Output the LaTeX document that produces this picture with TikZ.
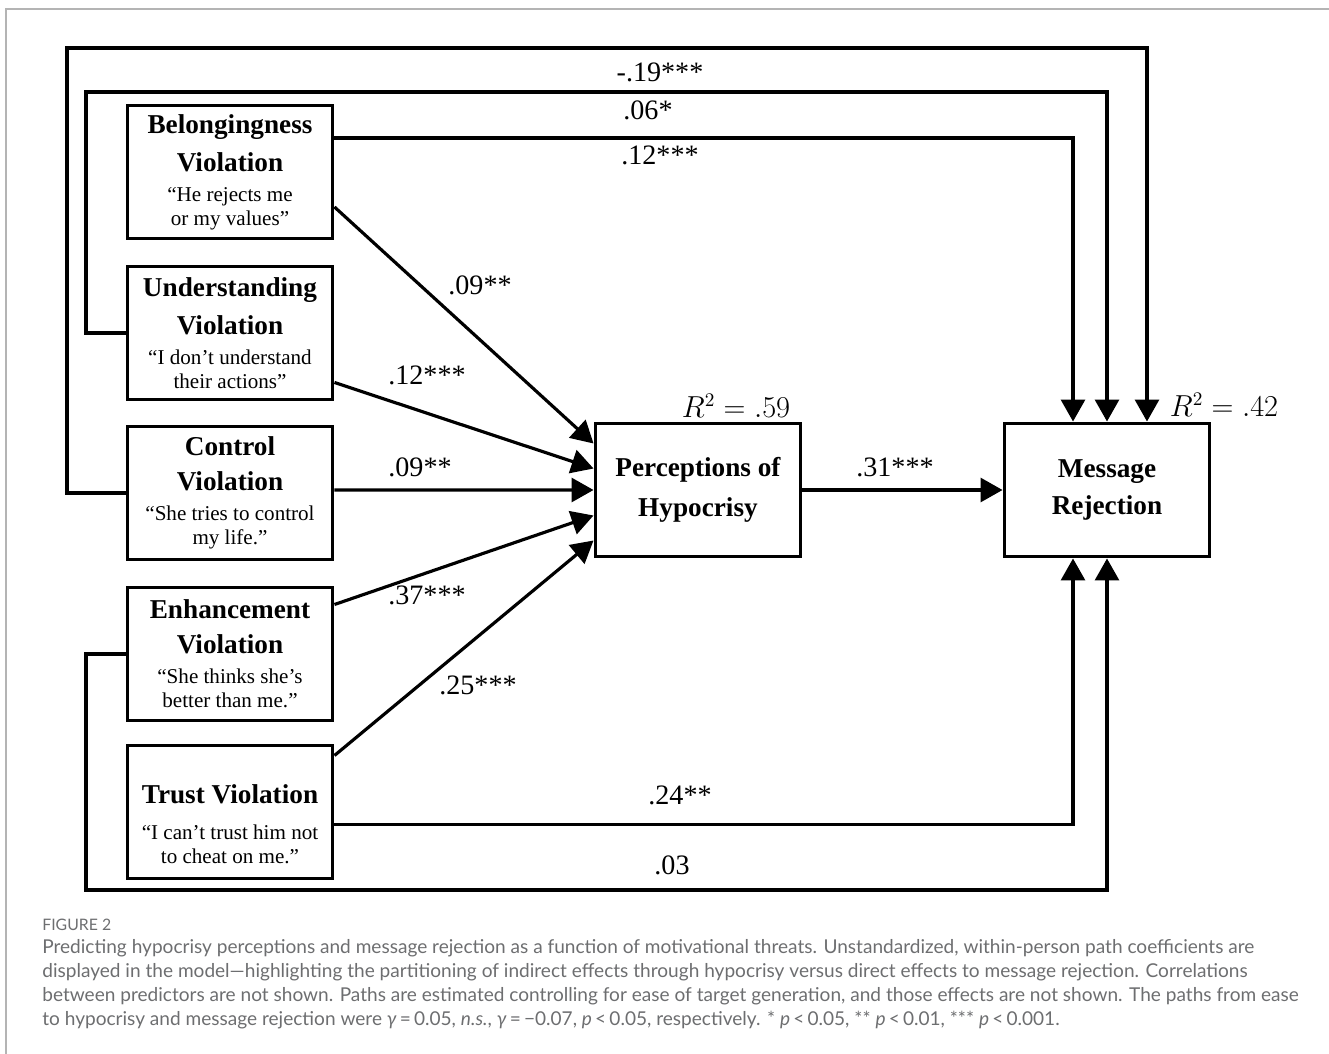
\documentclass[tikz,border=0pt]{standalone}
\usepackage{fontspec}
\setmainfont{Liberation Serif}
\newfontfamily\capfont{Lato}
\usetikzlibrary{arrows.meta}
\definecolor{capgray}{HTML}{6D6E70}
\definecolor{framegray}{HTML}{B4B4B4}
\newcommand{\ttlfont}{\fontsize{15.5}{21}\selectfont\bfseries}
\newcommand{\qfont}{\fontsize{12}{13.6}\selectfont}

\begin{document}
\begin{tikzpicture}[x=0.02cm, y=-0.02cm]

\tikzstyle{box}=[rectangle, draw, line width=1.7pt, minimum width=4.12cm, minimum height=2.68cm, align=center, inner sep=0pt, font=\qfont]
\tikzstyle{arrow}=[-{Triangle[width=0.48cm,length=0.44cm]}, line width=1.8pt]
\tikzstyle{coef}=[font=\fontsize{16}{18}\selectfont, inner sep=0pt]

\useasboundingbox (0,0) rectangle (1329,1054);
\draw [framegray, line width=0.8pt] (6,1054) -- (6,9) -- (1329,9);

\node (B) [box] at (230,172) {{\ttlfont Belongingness}\\[6.4pt] {\ttlfont Violation}\\[3.4pt]
                              ``He rejects me\\ or my values''};
\node (U) [box] at (230,333) {{\ttlfont Understanding}\\[6.4pt] {\ttlfont Violation}\\[3.4pt]
                              ``I don't understand\\ their actions''};
\node (C) [box] at (230,493) {{\ttlfont Control}\\[6.4pt] {\ttlfont Violation}\\[3.4pt]
                              ``She tries to control\\ my life.''};
\node (E) [box] at (230,654) {{\ttlfont Enhancement}\\[6.4pt] {\ttlfont Violation}\\[3.4pt]
                              ``She thinks she's\\ better than me.''};
\node (T) [box] at (230,812) {{\ttlfont\rule{0pt}{25pt}Trust Violation}\\[6.8pt]
                              ``I can't trust him not\\ to cheat on me.''};

\node (H) [box] at (698,490) {{\ttlfont Perceptions of}\\[7.4pt] {\ttlfont Hypocrisy}};
\node (M) [box] at (1107,490) {{\ttlfont Message}\\[6.4pt] {\ttlfont Rejection}};

% paths to hypocrisy
\draw [arrow] ([yshift=-0.7cm]B.east) -- ([yshift=0.93cm]H.west);
\draw [arrow] ([yshift=-0.99cm]U.east) -- ([yshift=0.43cm]H.west);
\draw [arrow] ([yshift=0.06cm]C.east) -- (H.west);
\draw [arrow] ([yshift=0.99cm]E.east) -- ([yshift=-0.51cm]H.west);
\draw [arrow] ([yshift=1.13cm]T.east) -- ([yshift=-1.01cm]H.west);
\draw [arrow] (H.east) -- (M.west);

% direct paths to rejection
\draw [arrow] (C.west) -| (67,48) -| ([xshift=0.8cm]M.north);
\draw [arrow] (U.west) -| (86,92) -| (M.north);
\draw [arrow] ([yshift=0.68cm]B.east) -| ([xshift=-0.68cm]M.north);
\draw [arrow] ([yshift=-0.25cm]T.east) -| ([xshift=-0.68cm]M.south);
\draw [arrow] (E.west) -| (86,890) -| (M.south);

\node [coef] at (660,72) {-.19***};
\node [coef] at (648,110) {.06*};
\node [coef] at (660,155) {.12***};
\node [coef] at (480,285) {.09**};
\node [coef] at (427,375) {.12***};
\node [coef] at (420,467) {.09**};
\node [coef] at (895,467) {.31***};
\node [coef] at (427,595) {.37***};
\node [coef] at (478,685) {.25***};
\node [coef] at (680,795) {.24**};
\node [coef] at (672,865) {.03};
\node [coef] at (736,406) {$R^2 = .59$};
\node [coef] at (1224,405) {$R^2 = .42$};

% caption
\node [anchor=west, inner sep=0pt, text=capgray, font=\capfont\fontsize{9}{10}\selectfont] at (42,925) {FIGURE 2};
\node [anchor=north west, inner sep=0pt, align=left, text=capgray, font=\capfont\fontsize{10.85}{13.6}\selectfont] at (42,939)
{Predicting hypocrisy perceptions and message rejection as a function of motivational threats. Unstandardized, within-person path coefficients are\\
displayed in the model—highlighting the partitioning of indirect effects through hypocrisy versus direct effects to message rejection. Correlations\\
between predictors are not shown. Paths are estimated controlling for ease of target generation, and those effects are not shown. The paths from ease\\
to hypocrisy and message rejection were \textit{γ}\,=\,0.05, \textit{n.s.}, \textit{γ}\,=\,−0.07, \textit{p}\,<\,0.05, respectively. * \textit{p}\,<\,0.05, ** \textit{p}\,<\,0.01, *** \textit{p}\,<\,0.001.};

\end{tikzpicture}
\end{document}
